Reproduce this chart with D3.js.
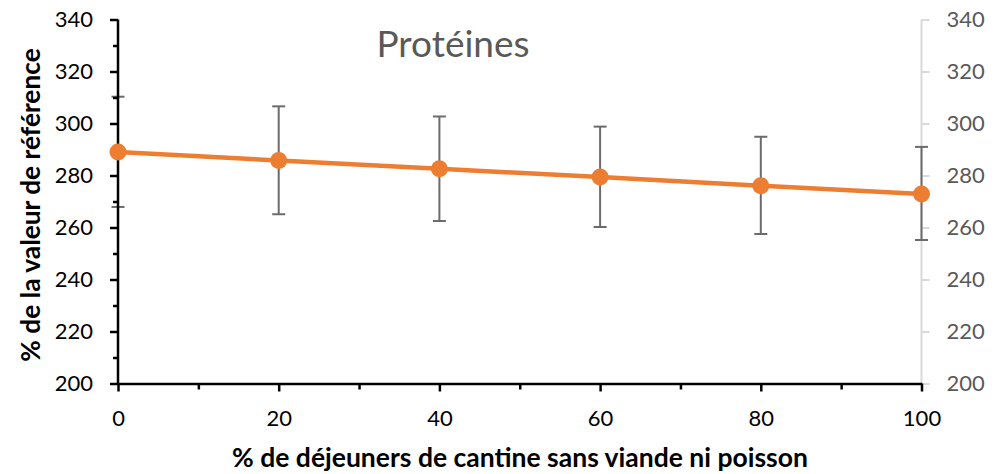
<!DOCTYPE html>
<html>
<head>
<meta charset="utf-8">
<script src="https://cdn.jsdelivr.net/npm/d3@7"></script>
<style>
  body { margin: 0; background: #fff; }
  text { font-family: Lato, "Open Sans", sans-serif; }
</style>
</head>
<body>
<svg id="chart" width="1004" height="474"></svg>
<script>
// data
const shares = [0, 20, 40, 60, 80, 100];
const proteins = [289.0, 285.8, 282.6, 279.4, 276.1, 272.9];
const errLow = [267.9, 265.1, 262.5, 260.2, 257.5, 255.2];
const errHigh = [310.3, 306.6, 302.7, 298.8, 294.9, 291.0];
const yMajorTicks = [200, 220, 240, 260, 280, 300, 320, 340];
const xMajorTicks = [0, 20, 40, 60, 80, 100];
const xMinorTicks = [10, 30, 50, 70, 90];
const yMinorTicks = [210, 230, 250, 270, 290, 310, 330];

const title = "Protéines";
const xTitle = "% de déjeuners de cantine sans viande ni poisson";
const yTitle = "% de la valeur de référence";

let svg = d3.select("#chart");

let x = d3.scaleLinear().domain([0, 100]).range([118, 921.5]);
let y = d3.scaleLinear().domain([200, 340]).range([383.5, 19.5]);

// right axis (light grey)
let right = svg.append("g")
    .attr("transform", "translate(" + x(100) + ",0)")
    .call(d3.axisRight(y).tickValues(yMajorTicks).tickSize(8).tickPadding(17));
right.select(".domain").attr("stroke", "#d9d9d9").attr("stroke-width", 2).attr("d", "M0," + y(340) + "V" + y(200));
right.selectAll(".tick line").attr("stroke", "#d9d9d9").attr("stroke-width", 2);
right.selectAll(".tick text").attr("fill", "#595959").style("font-size", "22px");

// error bars
let bars = svg.append("g").selectAll("g").data(shares).join("g");
bars.append("line")
    .attr("x1", d => x(d)).attr("x2", d => x(d))
    .attr("y1", (d, i) => y(errLow[i])).attr("y2", (d, i) => y(errHigh[i]));
bars.append("line")
    .attr("x1", d => x(d) - 6.5).attr("x2", d => x(d) + 6.5)
    .attr("y1", (d, i) => y(errLow[i])).attr("y2", (d, i) => y(errLow[i]));
bars.append("line")
    .attr("x1", d => x(d) - 6.5).attr("x2", d => x(d) + 6.5)
    .attr("y1", (d, i) => y(errHigh[i])).attr("y2", (d, i) => y(errHigh[i]));
bars.selectAll("line").attr("stroke", "#6b6b6b").attr("stroke-width", 2);

// left axis, minor then major
let leftMinor = svg.append("g")
    .attr("transform", "translate(" + x(0) + ",0)")
    .call(d3.axisLeft(y).tickValues(yMinorTicks).tickSize(5).tickFormat(""));
leftMinor.select(".domain").remove();
let left = svg.append("g")
    .attr("transform", "translate(" + x(0) + ",0)")
    .call(d3.axisLeft(y).tickValues(yMajorTicks).tickSize(8).tickSizeOuter(0).tickPadding(17));
left.select(".domain").attr("d", "M0," + y(340) + "V" + y(200));

// bottom axis
let bottomMinor = svg.append("g")
    .attr("transform", "translate(0," + y(200) + ")")
    .call(d3.axisBottom(x).tickValues(xMinorTicks).tickSize(6).tickFormat(""));
bottomMinor.select(".domain").remove();
let bottom = svg.append("g")
    .attr("transform", "translate(0," + y(200) + ")")
    .call(d3.axisBottom(x).tickValues(xMajorTicks).tickSize(8).tickSizeOuter(0).tickPadding(19));

[left, leftMinor, bottom, bottomMinor].forEach(a => {
    a.selectAll("line, .domain").attr("stroke", "#000").attr("stroke-width", 2.5);
    a.selectAll(".tick text").attr("fill", "#000").style("font-size", "22px");
});

// series line and markers
let line = d3.line().x(d => x(d)).y((d, i) => y(proteins[i]));
svg.append("path")
    .datum(shares)
    .attr("d", line)
    .attr("fill", "none")
    .attr("stroke", "#ED7D31")
    .attr("stroke-width", 4.5);
svg.append("g").selectAll("circle").data(shares).join("circle")
    .attr("cx", d => x(d))
    .attr("cy", (d, i) => y(proteins[i]))
    .attr("r", 8.5)
    .attr("fill", "#ED7D31");

// titles
svg.append("text")
    .attr("x", 453).attr("y", 57)
    .attr("text-anchor", "middle")
    .attr("fill", "#595959")
    .style("font-size", "37px")
    .text(title);

svg.append("text")
    .attr("x", 520).attr("y", 467)
    .attr("text-anchor", "middle")
    .style("font-size", "26.5px")
    .style("font-weight", "bold")
    .text(xTitle);

svg.append("text")
    .attr("transform", "translate(40,205) rotate(-90)")
    .attr("text-anchor", "middle")
    .style("font-size", "26.3px")
    .style("font-weight", "bold")
    .text(yTitle);
</script>
</body>
</html>
